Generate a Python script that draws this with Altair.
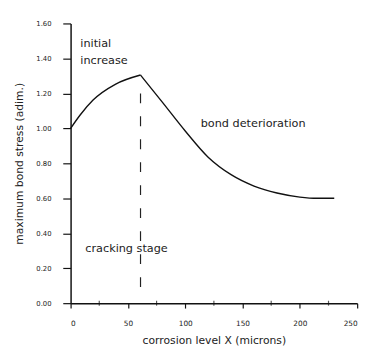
import altair as alt
import pandas as pd

# Rising branch (initial increase)
rise_x = [0, 8.5, 19.6, 39, 61]
rise_y = [1.00, 1.078, 1.162, 1.252, 1.305]
# Falling branch (bond deterioration)
fall_x = [61, 80, 100, 120, 140, 160, 180, 200, 215, 230]
fall_y = [1.305, 1.15, 0.985, 0.835, 0.735, 0.67, 0.63, 0.607, 0.60, 0.60]

crack_x = [61]
crack_top = [1.20]
crack_bottom = [0.08]

minor_x = [25, 75, 125, 175, 225]

labels = ["initial", "increase", "bond deterioration", "cracking stage"]
label_x = [8.5, 8.5, 113.5, 12.8]
label_y = [1.48, 1.385, 1.022, 0.309]

x_ticks = [0, 50, 100, 150, 200, 250]
y_ticks = [0.0, 0.2, 0.4, 0.6, 0.8, 1.0, 1.2, 1.4, 1.6]

curve = pd.DataFrame(
    {"x": rise_x + fall_x, "y": rise_y + fall_y,
     "seg": ["rise"] * len(rise_x) + ["fall"] * len(fall_x)}
)
crack = pd.DataFrame({"x": crack_x, "y": crack_top, "y2": crack_bottom})
minor = pd.DataFrame({"x": minor_x, "y": [0.0] * len(minor_x)})
ann = pd.DataFrame({"t": labels, "x": label_x, "y": label_y})

FONT = "DejaVu Sans"
xs = alt.Scale(domain=[0, 250], nice=False)
ys = alt.Scale(domain=[0, 1.6], nice=False)

x_axis = alt.Axis(
    values=x_ticks, format="d", title="corrosion level X (microns)",
    tickSize=5, labelPadding=12, labelFontSize=7.5, titleFontSize=11,
    titlePadding=8, labelFont=FONT, titleFont=FONT, titleFontWeight="normal",
    labelOverlap=False)
y_axis = alt.Axis(
    values=y_ticks, format=".2f", title="maximum bond stress (adim.)",
    tickSize=8, labelPadding=12, labelFontSize=7, titleFontSize=11,
    titlePadding=12, labelFont=FONT, titleFont=FONT, titleFontWeight="normal",
    labelOverlap=False, tickCount=9)

X = alt.X("x:Q", scale=xs, axis=x_axis)
Y = alt.Y("y:Q", scale=ys, axis=y_axis)

line = alt.Chart(curve).mark_line(color="#111", strokeWidth=1.4, interpolate="monotone").encode(
    x=X, y=Y, detail="seg:N",
)

rule = alt.Chart(crack).mark_rule(color="#222", strokeWidth=1.2, strokeDash=[10, 13.5]).encode(
    x=X, y=Y, y2="y2:Q"
)

ticks = alt.Chart(minor).mark_tick(color="#111", orient="vertical", size=5, thickness=1.2).encode(
    x=X, y=Y
)

text = alt.Chart(ann).mark_text(align="left", baseline="middle", font=FONT, fontSize=11.5, color="#222").encode(
    x=X, y=Y, text="t:N"
)

chart = alt.layer(line, rule, ticks, text).properties(
    width=293, height=286,
    autosize=alt.AutoSizeParams(type="none"),
    padding={"left": 64, "top": 12, "right": 8, "bottom": 41},
).configure_view(stroke=None).configure_axis(
    grid=False, domainColor="#111", tickColor="#111", domainWidth=1.5, tickWidth=1.2,
    labelColor="#222", titleColor="#222",
)

chart.save("out.html", embed_options={"renderer": "svg", "actions": False})
